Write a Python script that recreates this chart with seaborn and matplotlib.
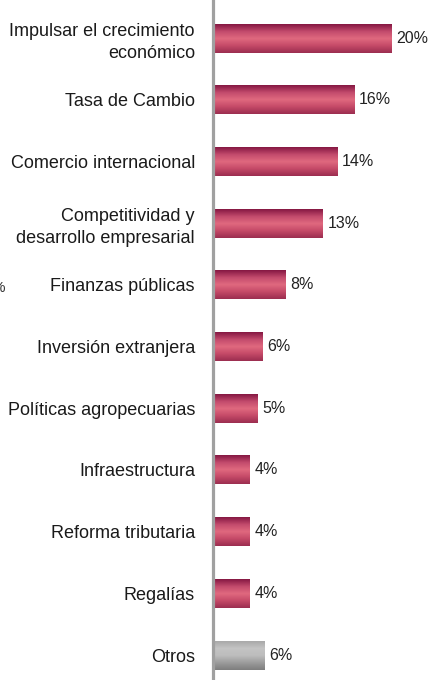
import numpy as np
import pandas as pd
import matplotlib
matplotlib.use("Agg")
import matplotlib.pyplot as plt
import seaborn as sns
from matplotlib.colors import LinearSegmentedColormap

categorias = ["Impulsar el crecimiento\necon\u00f3mico", "Tasa de Cambio", "Comercio internacional",
              "Competitividad y\ndesarrollo empresarial", "Finanzas p\u00fablicas",
              "Inversi\u00f3n extranjera", "Pol\u00edticas agropecuarias", "Infraestructura",
              "Reforma tributaria", "Regal\u00edas", "Otros"]
valores = [20, 15.8, 13.9, 12.3, 8.1, 5.5, 5.0, 4.1, 4.1, 4.1, 5.8]
etiquetas = ["20%", "16%", "14%", "13%", "8%", "6%", "5%", "4%", "4%", "4%", "6%"]

df = pd.DataFrame({"cat": categorias, "val": valores})

sns.set_style("white")
plt.rcParams["font.family"] = ["Liberation Sans", "DejaVu Sans"]

fig = plt.figure(figsize=(4.29, 6.8), dpi=100)
ax = fig.add_axes([213 / 429, 0, 1 - 213 / 429, 1])

sns.barplot(data=df, x="val", y="cat", ax=ax, width=0.47, color="#b03858",
            orient="h", edgecolor="none")

rojo = LinearSegmentedColormap.from_list("rojo", ["#861843", "#c24a6c", "#e0697f", "#c54a68", "#9c2e50"])
gris = LinearSegmentedColormap.from_list("gris", ["#a9a9a9", "#c4c4c4", "#bdbdbd", "#9c9c9c", "#7e7e7e"])
grad = np.linspace(0, 1, 64).reshape(-1, 1)
for i, p in enumerate(ax.patches):
    x0, y0 = p.get_x(), p.get_y()
    w, h = p.get_width(), p.get_height()
    cmap = gris if categorias[i] == "Otros" else rojo
    im = ax.imshow(grad, cmap=cmap, aspect="auto", extent=[x0, x0 + w, y0 + h, y0],
                   zorder=p.get_zorder() + 0.1)
    im.set_clip_path(p)
    ax.text(x0 + w + 0.55, y0 + h / 2, etiquetas[i], va="center", ha="left",
            fontsize=11.5, color="#222222")

ax.set_xlim(0, 24.2)
ax.set_ylim(10.405, -0.616)
ax.set_xlabel("")
ax.set_ylabel("")
ax.set_xticks([])
ax.tick_params(axis="y", length=0, pad=13, labelsize=13, labelcolor="#1a1a1a")
for lbl in ax.get_yticklabels():
    lbl.set_multialignment("right")
    lbl.set_linespacing(1.35)
for s in ["top", "right", "bottom"]:
    ax.spines[s].set_visible(False)
ax.spines["left"].set_color("#a0a0a0")
ax.spines["left"].set_linewidth(2.3)

fig.text(0.012, 1 - 288 / 680, "%", fontsize=11, color="#333333", ha="right", va="center")

fig.savefig("out.png", dpi=100)
